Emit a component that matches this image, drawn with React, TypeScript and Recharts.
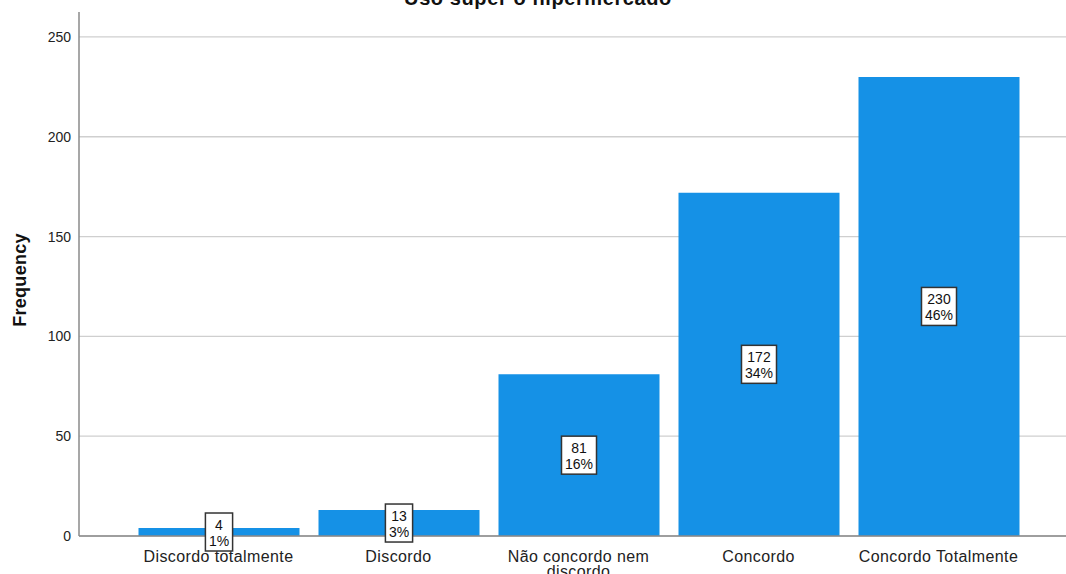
import * as React from "react"
import { BarChart, Bar, XAxis, YAxis, CartesianGrid } from "recharts"

const categories = [
  "Discordo totalmente",
  "Discordo",
  "Não concordo nem discordo",
  "Concordo",
  "Concordo Totalmente",
]
const counts = [4, 13, 81, 172, 230]
const yTicks = [0, 50, 100, 150, 200, 250]

const total = counts.reduce((a, b) => a + b, 0)
const data = categories.map((name, i) => ({
  name,
  count: counts[i],
  pct: `${Math.round((counts[i] / total) * 100)}%`,
}))

const FONT = "'Liberation Sans', Arial, sans-serif"

function BarLabel(props: any) {
  const { x, y, width, height, index } = props
  const d = data[index]
  if (!d) return null
  const top = String(d.count)
  const bottom = d.pct
  const w = Math.max(top.length * 7.8, (bottom.length - 1) * 7.8 + 12.4) + 7
  const h = 38
  const cx = x + width / 2
  const cy = y + height / 2
  return (
    <g>
      <rect x={cx - w / 2} y={cy - h / 2} width={w} height={h} fill="#fff" stroke="#333" strokeWidth={1.5} />
      <text x={cx} y={cy - 2} textAnchor="middle" fontSize={14} fontFamily={FONT} fill="#111">
        {top}
      </text>
      <text x={cx} y={cy + 14} textAnchor="middle" fontSize={14} fontFamily={FONT} fill="#111">
        {bottom}
      </text>
    </g>
  )
}

function CategoryTick(props: any) {
  const { x, y, payload } = props
  const words = String(payload.value).split(" ")
  const lines: string[] = []
  let cur = ""
  for (const w of words) {
    const next = cur ? `${cur} ${w}` : w
    if (next.length * 8 > 165 && cur) {
      lines.push(cur)
      cur = w
    } else cur = next
  }
  lines.push(cur)
  return (
    <text
      x={x}
      y={y + 18}
      textAnchor="middle"
      fontSize={16}
      letterSpacing={0.4}
      fontFamily={FONT}
      fill="#222"
    >
      {lines.map((l, i) => (
        <tspan key={i} x={x} dy={i === 0 ? 0 : 15}>
          {l}
        </tspan>
      ))}
    </text>
  )
}

function AxisTitle(props: any) {
  const vb = props.viewBox || {}
  const cy = vb.y + vb.height / 2 + 6
  return (
    <text
      x={20}
      y={cy}
      transform={`rotate(-90, 20, ${cy})`}
      textAnchor="middle"
      dominantBaseline="central"
      fontSize={18}
      letterSpacing={0.3}
      fontWeight="bold"
      fontFamily={FONT}
      fill="#111"
    >
      Frequency
    </text>
  )
}

export default function App() {
  return (
    <div style={{ position: "relative", width: 1066, height: 574, background: "#fff", overflow: "hidden" }}>
      <style>{"body{margin:0}"}</style>
      <svg width={1066} height={20} style={{ position: "absolute", left: 0, top: 0 }}>
        <text
          x={538}
          y={5}
          textAnchor="middle"
          fontSize={20}
          letterSpacing={0.6}
          fontWeight="bold"
          fontFamily={FONT}
          fill="#111"
        >
          Uso super o hipermercado
        </text>
      </svg>
      <BarChart
        width={1066}
        height={574}
        data={data}
        margin={{ top: 12, right: 0, bottom: 0, left: 0 }}
        style={{ fontFamily: FONT }}
      >
        <CartesianGrid vertical={false} horizontalValues={yTicks} stroke="#cfcfcf" strokeWidth={1.3} />
        <XAxis
          dataKey="name"
          height={38}
          padding={{ left: 49.5, right: 37.5 }}
          tickLine={false}
          axisLine={{ stroke: "#8a8a8a", strokeWidth: 1.5 }}
          tick={<CategoryTick />}
          interval={0}
        />
        <YAxis
          width={79}
          domain={[0, 262.5]}
          ticks={yTicks}
          tickLine={false}
          axisLine={{ stroke: "#8a8a8a", strokeWidth: 1.5 }}
          tick={{ fontSize: 14, fill: "#222", fontFamily: FONT }}
          label={<AxisTitle />}
        />
        <Bar dataKey="count" fill="#1591e6" barSize={161} isAnimationActive={false} label={<BarLabel />} />
      </BarChart>
    </div>
  )
}
